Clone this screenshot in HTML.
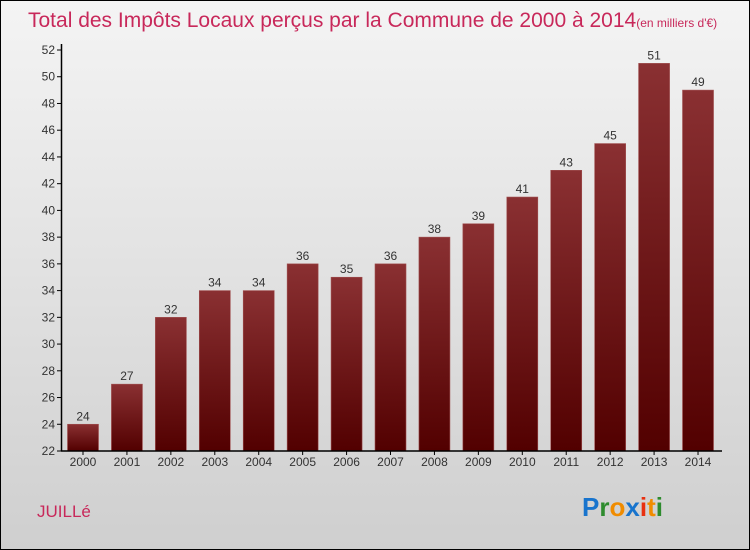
<!DOCTYPE html>
<html><head><meta charset="utf-8"><style>
body{margin:0}
#wrap{position:relative;width:750px;height:550px;box-sizing:border-box;border:1px solid #000;background:linear-gradient(#f4f4f4,#cfcfcf);font-family:"Liberation Sans",sans-serif;overflow:hidden}
</style></head><body>
<div id="wrap">
<svg id="chart" width="750" height="550" style="position:absolute;left:-1px;top:-1px">
<defs><linearGradient id="bg" x1="0" y1="0" x2="0" y2="1"><stop offset="0" stop-color="#8a3032"/><stop offset="1" stop-color="#520000"/></linearGradient></defs>
<text x="28" y="27" font-size="21" fill="#c8285a">Total des Impôts Locaux perçus par la Commune de 2000 à 2014<tspan font-size="12">(en milliers d'€)</tspan></text>
<text x="37" y="517" font-size="17" fill="#c8285a">JUILLé</text>
<g font-size="26" font-weight="bold" font-family="'Liberation Sans',sans-serif">
<text x="582" y="516"><tspan fill="#1874cd">P</tspan><tspan fill="#2e8b2e">r</tspan><tspan fill="#f08c00">o</tspan><tspan fill="#1874cd">x</tspan><tspan fill="#e83010">i</tspan><tspan fill="#f08c00">t</tspan><tspan fill="#2e8b2e">i</tspan></text>
</g>
</svg>
</div>
<script>
const years=["2000","2001","2002","2003","2004","2005","2006","2007","2008","2009","2010","2011","2012","2013","2014"];
const values=[24,27,32,34,34,36,35,36,38,39,41,43,45,51,49];
const yTicks=[22,24,26,28,30,32,34,36,38,40,42,44,46,48,50,52];
const svg=document.getElementById('chart');
const NS='http://www.w3.org/2000/svg';
const yMin=22,yMax=52,y0=451,y1=50;
const ys=v=>y0-(v-yMin)/(yMax-yMin)*(y0-y1);
const xs=i=>83+i*43.93;
function mk(t,a){const e=document.createElementNS(NS,t);for(const k in a)e.setAttribute(k,a[k]);svg.appendChild(e);return e;}
yTicks.forEach(v=>{
  const l=mk('line',{x1:57,x2:62,y1:ys(v),y2:ys(v),stroke:'#000'});
  
  
  const t=mk('text',{x:55,y:ys(v)+4,'font-size':12,fill:'#333','text-anchor':'end'});
  t.textContent=v;
  
  
});
values.forEach((v,i)=>{
  const r=mk('rect',{x:xs(i)-15.5,y:ys(v),width:31,height:y0-ys(v),fill:'url(#bg)',stroke:'#a05050','stroke-width':0.6});
  
  
  const t=mk('text',{x:xs(i),y:ys(v)-4,'font-size':12,fill:'#333','text-anchor':'middle'});
  t.textContent=v;
  
  
  const x=mk('text',{x:xs(i),y:466,'font-size':12,fill:'#333','text-anchor':'middle'});
  x.textContent=years[i];
  
  
  const tk=mk('line',{x1:xs(i),x2:xs(i),y1:y0,y2:y0+4,stroke:'#000'});
  
  
});
const ya=mk('line',{x1:61.5,x2:61.5,y1:y1-6,y2:y0,stroke:'#000','stroke-width':1.5});


const xa=mk('line',{x1:61,x2:722,y1:y0,y2:y0,stroke:'#000','stroke-width':1.5});


</script>
</body></html>
